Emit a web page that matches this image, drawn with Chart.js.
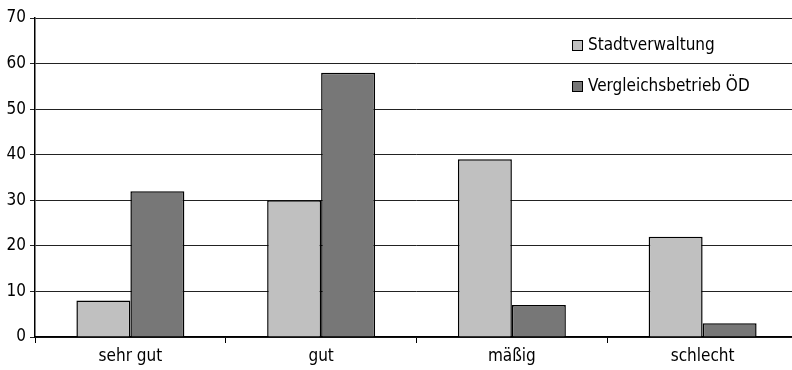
<!DOCTYPE html>
<html lang="de">
<head>
<meta charset="utf-8">
<script src="https://cdn.jsdelivr.net/npm/chart.js@4/dist/chart.umd.min.js"></script>
<style>
    html, body { margin: 0; padding: 0; background: #fff; }
    #wrap { width: 792px; height: 370px; overflow: hidden; }
    #box { width: 800px; height: 370px; }
</style>
</head>
<body>
<div id="wrap"><div id="box"><canvas id="chartBewertung"></canvas></div></div>
<script>
const kategorien = ['sehr gut', 'gut', 'mäßig', 'schlecht'];
const stadtverwaltung = [8, 30, 39, 22];
const vergleichsbetrieb = [32, 58, 7, 3];
const yTicks = [0, 10, 20, 30, 40, 50, 60, 70];

const schrift = "'DejaVu Sans Condensed', 'Liberation Sans', sans-serif";

// Legende innerhalb der Zeichenfläche, rechts oben
const innenLegende = {
    id: 'innenLegende',
    afterDraw(chart) {
        const c = chart.ctx;
        const zeilen = [45, 86];
        c.save();
        c.font = '17px ' + schrift;
        c.textBaseline = 'middle';
        chart.data.datasets.forEach((ds, i) => {
            const y = zeilen[i];
            c.fillStyle = ds.backgroundColor;
            c.fillRect(572, y - 5, 10, 10);
            c.strokeStyle = '#000';
            c.lineWidth = 1;
            c.strokeRect(572.5, y - 4.5, 10, 10);
            c.fillStyle = '#000';
            c.fillText(ds.label, 588, y + 1);
        });
        c.restore();
    }
};

new Chart(document.getElementById('chartBewertung'), {
    type: 'bar',
    data: {
        labels: kategorien,
        datasets: [
            {
                label: 'Stadtverwaltung',
                data: stadtverwaltung,
                backgroundColor: '#c0c0c0',
                borderColor: '#000',
                borderWidth: 1.5
            },
            {
                label: 'Vergleichsbetrieb ÖD',
                data: vergleichsbetrieb,
                backgroundColor: '#777777',
                borderColor: '#000',
                borderWidth: 1.5
            }
        ]
    },
    options: {
        responsive: true,
        maintainAspectRatio: false,
        animation: false,
        devicePixelRatio: 1,
        categoryPercentage: 0.566,
        barPercentage: 1,
        layout: { padding: { top: 18, right: 2, left: 0, bottom: 0 } },
        plugins: {
            legend: { display: false },
            tooltip: { enabled: false }
        },
        scales: {
            x: {
                grid: {
                    drawOnChartArea: false,
                    color: '#000',
                    tickLength: 6,
                    offset: true
                },
                border: { color: '#000', width: 1.5 },
                ticks: {
                    color: '#000',
                    font: { family: schrift, size: 17 },
                    padding: 3,
                    maxRotation: 0
                },
                afterFit(scale) { scale.height = 33; }
            },
            y: {
                min: 0,
                max: 70,
                afterBuildTicks(scale) {
                    scale.ticks = yTicks.map(v => ({ value: v }));
                },
                grid: {
                    color: '#222',
                    lineWidth: 1,
                    tickLength: 5
                },
                border: { color: '#000', width: 1.5 },
                ticks: {
                    color: '#000',
                    font: { family: schrift, size: 17 },
                    padding: 4
                },
                afterFit(scale) { scale.width = 35; }
            }
        }
    },
    plugins: [innenLegende]
});
</script>
</body>
</html>
